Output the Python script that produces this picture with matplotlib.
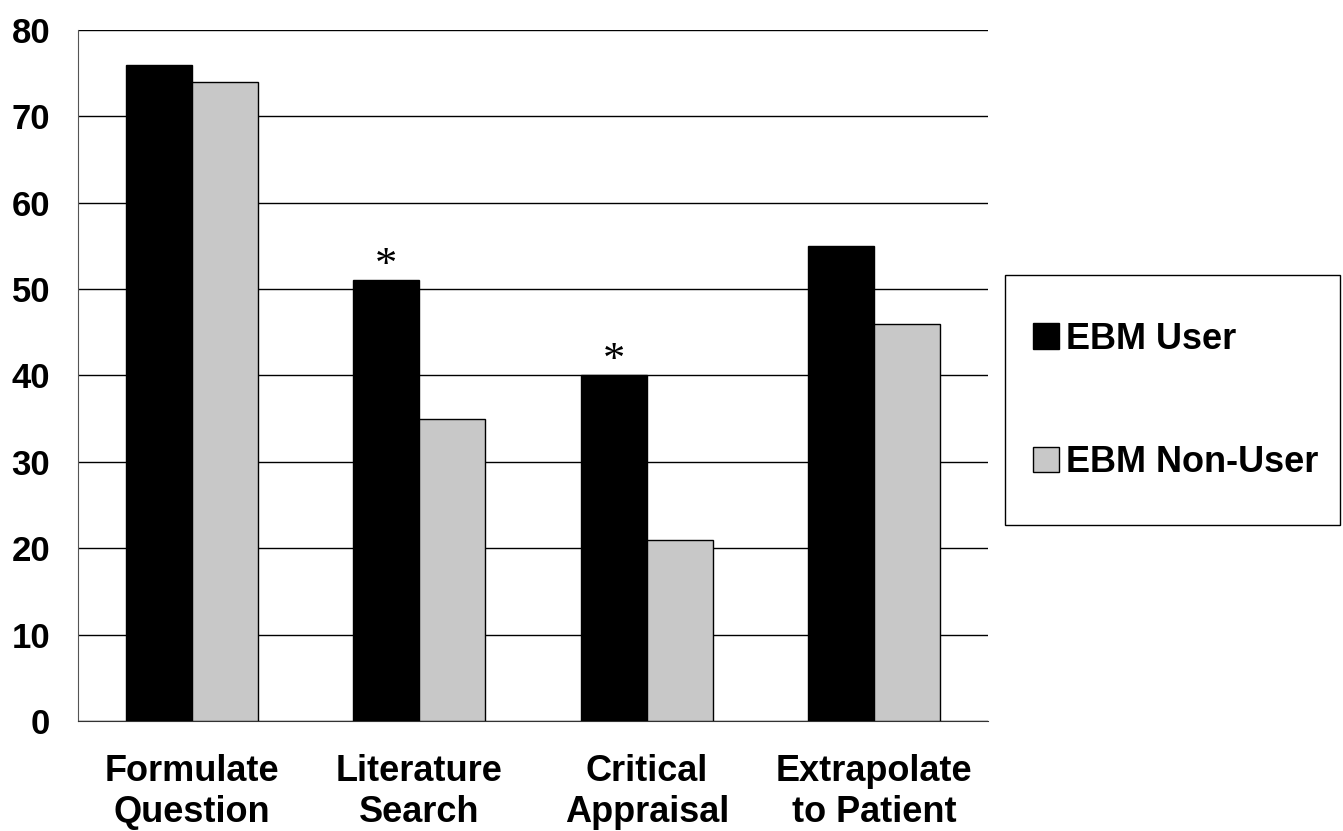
import numpy as np
import matplotlib
matplotlib.use("Agg")
import matplotlib.pyplot as plt
from matplotlib.patches import Rectangle

categories = ["Formulate\nQuestion", "Literature\nSearch", "Critical\nAppraisal", "Extrapolate\nto Patient"]
ebm_user = [76, 51, 40, 55]
ebm_non_user = [74, 35, 21, 46]
significant = [False, True, True, False]
y_ticks = [0, 10, 20, 30, 40, 50, 60, 70, 80]

plt.rcParams['font.family'] = ['Liberation Sans', 'DejaVu Sans']

fig = plt.figure(figsize=(13.43, 8.31), dpi=100)
ax = fig.add_axes([78 / 1343, 1 - 721 / 831, 910 / 1343, 691 / 831])

x = np.arange(len(categories))
w = 0.29
ax.bar(x - w / 2, ebm_user, w, color="black", edgecolor="black", linewidth=1, label="EBM User", zorder=3)
ax.bar(x + w / 2, ebm_non_user, w, color="#c8c8c8", edgecolor="black", linewidth=1, label="EBM Non-User", zorder=3)

for i, s in enumerate(significant):
    if s:
        ax.text(x[i] - w / 2, ebm_user[i] - 0.6, "*", ha="center", va="bottom",
                fontsize=32, family="Liberation Serif", zorder=4)

ax.set_xlim(-0.5, 3.5)
ax.set_ylim(0, 80)
ax.set_yticks(y_ticks)
ax.set_yticklabels([str(t) for t in y_ticks], fontsize=25, fontweight="bold")
ax.set_xticks(x)
ax.set_xticklabels(categories, fontsize=26, fontweight="bold", linespacing=1.2)
ax.tick_params(axis="both", length=0)
ax.tick_params(axis="y", pad=20)
ax.tick_params(axis="x", pad=24)
ax.grid(axis="y", color="black", linewidth=1, zorder=0)
ax.set_axisbelow(True)
ax.spines["right"].set_visible(False)
ax.spines["top"].set_visible(False)
ax.spines["left"].set_color("#555555")
ax.spines["bottom"].set_color("#333333")

# legend box
fig.patches.append(Rectangle((1005 / 1343, 1 - 525 / 831), 335 / 1343, 250 / 831,
                             transform=fig.transFigure, fill=False, edgecolor="black", linewidth=1))
fig.legend(loc="center left", bbox_to_anchor=(1001 / 1343, 1 - 401 / 831), frameon=False,
           prop={"size": 26, "weight": "bold"}, handlelength=0.7, handleheight=0.7,
           handletextpad=0.2, labelspacing=2.45)

fig.savefig("out.png", dpi=100)
